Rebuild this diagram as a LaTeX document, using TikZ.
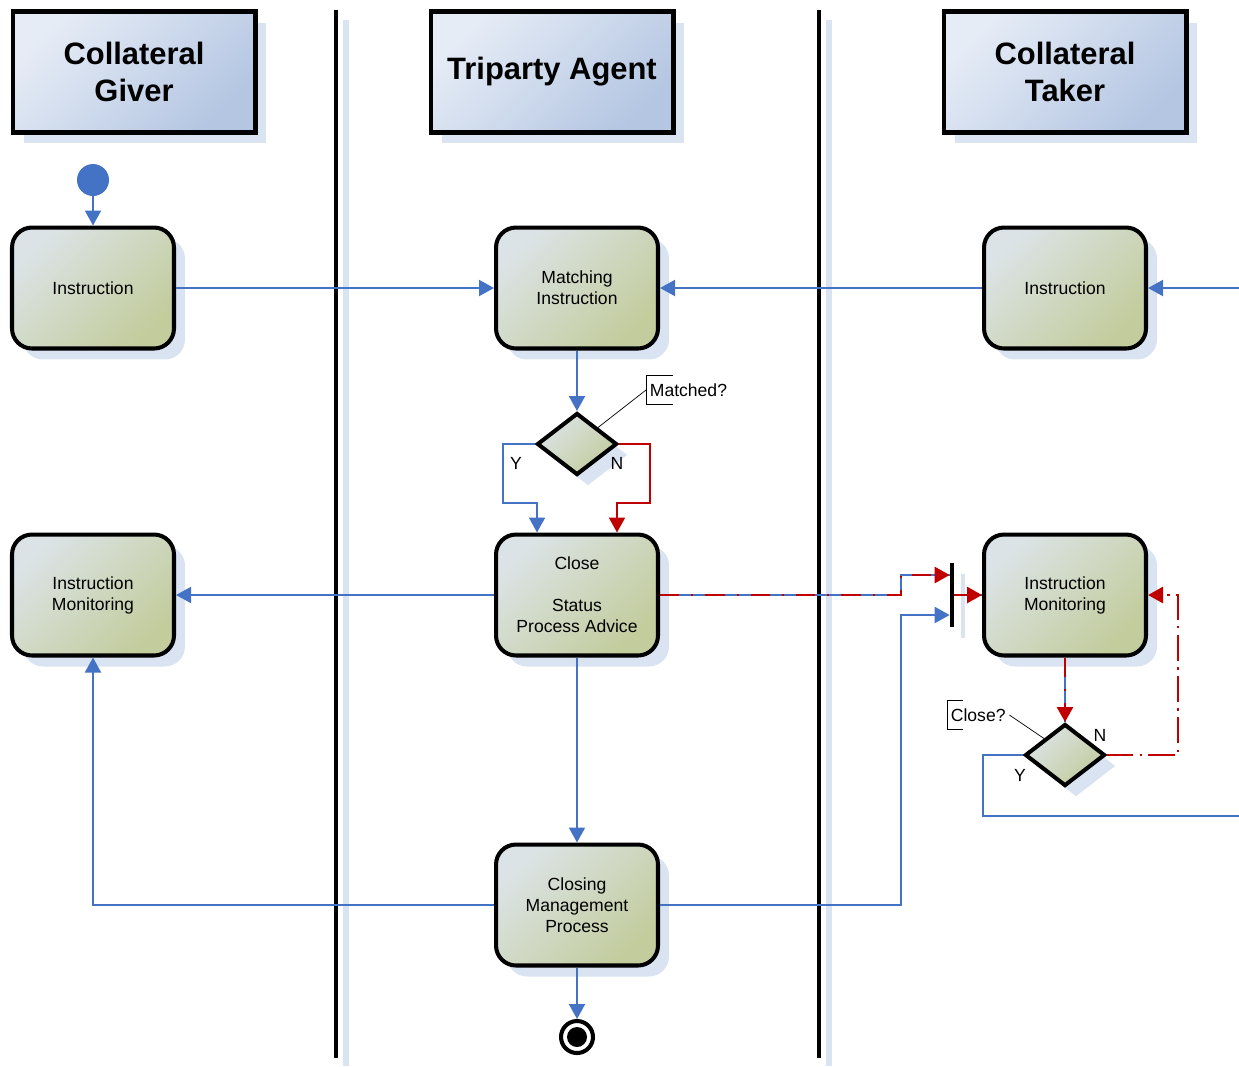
\documentclass[tikz,border=0pt]{standalone}
\usepackage{fontspec}
\setmainfont{Liberation Sans}
\usetikzlibrary{shapes.geometric, arrows.meta, shadows}

\definecolor{flowblue}{RGB}{68,114,196}
\definecolor{flowred}{RGB}{192,0,0}
\definecolor{shadowblue}{RGB}{217,227,242}
\definecolor{headlight}{RGB}{230,236,246}
\definecolor{headdark}{RGB}{180,198,226}
\definecolor{actlight}{RGB}{220,227,230}
\definecolor{actdark}{RGB}{194,204,156}

\begin{document}
\begin{tikzpicture}[
    x=0.02cm, y=-0.02cm,
    boxshadow/.style={drop shadow={shadow xshift=0.22cm, shadow yshift=-0.22cm, fill=shadowblue, opacity=1}},
    header/.style={rectangle, draw, line width=2.3pt, minimum width=4.86cm, minimum height=2.42cm, align=center, font=\fontsize{17.6}{21}\selectfont\bfseries, top color=headlight, bottom color=headdark, shading angle=45, boxshadow},
    activity/.style={rectangle, draw, line width=2.3pt, rounded corners=0.4cm, minimum width=3.24cm, minimum height=2.42cm, align=center, font=\fontsize{10}{12}\selectfont, top color=actlight, bottom color=actdark, shading angle=45, boxshadow},
    decision/.style={diamond, draw, line width=2.3pt, minimum width=1.6cm, minimum height=1.24cm, inner sep=0pt, top color=actlight, bottom color=actdark, shading angle=45, boxshadow},
    startdot/.style={circle, fill=flowblue, minimum size=0.64cm, inner sep=0pt},
    enddot/.style={circle, draw, line width=2.3pt, fill=white, minimum size=0.64cm, inner sep=0pt, path picture={\fill[black] (path picture bounding box.center) circle (0.2cm);}},
    syncbar/.style={rectangle, fill=black, minimum width=0.08cm, minimum height=1.28cm, inner sep=0pt, boxshadow},
    lbl/.style={font=\fontsize{10}{12}\selectfont, inner sep=1pt},
    qnote/.style={font=\fontsize{10}{12}\selectfont, anchor=west, minimum height=0.56cm, inner xsep=2pt},
    lane/.style={line width=2.3pt},
    laneshade/.style={shadowblue, line width=3pt},
    plain/.style={flowblue, line width=1.2pt},
    flow/.style={plain, -{Triangle[length=0.3cm, width=0.32cm]}},
    redflow/.style={flowred, line width=1.2pt, -{Triangle[length=0.3cm, width=0.32cm]}},
    reddash/.style={redflow, line width=1.6pt, dash pattern=on 15pt off 3.5pt on 1.5pt off 3.5pt},
    mixflow/.style={redflow, line width=1.6pt, dash pattern=on 11pt off 6.8pt on 1.2pt off 6.8pt, preaction={draw=flowblue, line width=1.2pt, solid, -}}
]
\useasboundingbox (0,0) rectangle (1239,1066);

% Swimlane dividers
\draw[laneshade] (346,20) -- (346,1066);
\draw[lane] (336,10) -- (336,1058);
\draw[laneshade] (829,20) -- (829,1066);
\draw[lane] (819,10) -- (819,1058);

% Lane headers
\node[header] (giver) at (134,72) {Collateral\\Giver};
\node[header] (agent) at (552,72) {Triparty Agent};
\node[header] (taker) at (1065,72) {Collateral\\Taker};

% Activities
\node[startdot] (start) at (93,180) {};
\node[activity] (ginstr) at (93,288) {Instruction};
\node[activity] (match) at (577,288) {Matching\\Instruction};
\node[activity] (tinstr) at (1065,288) {Instruction};
\node[decision] (matchd) at (577,444) {};
\node[activity] (gmon) at (93,595) {Instruction\\Monitoring};
\node[activity] (close) at (577,595) {Close\\[12pt]Status\\Process Advice};
\node[activity] (tmon) at (1065,595) {Instruction\\Monitoring};
\node[syncbar] (bar) at (952,595) {};
\node[decision] (closed) at (1065,755) {};
\node[activity] (closing) at (577,905) {Closing\\Management\\Process};
\node[enddot] (finish) at (577,1037) {};

% Notes
\node[qnote] (matchq) at (646,390) {Matched?};
\draw[thin] ([xshift=0.54cm]matchq.north west) -- (matchq.north west) -- (matchq.south west) -- ([xshift=0.54cm]matchq.south west);
\draw[thin] (matchq.west) -- (matchd.north east);
\node[qnote] (closeq) at (947,715) {Close?};
\draw[thin] ([xshift=0.32cm]closeq.north west) -- (closeq.north west) -- (closeq.south west) -- ([xshift=0.32cm]closeq.south west);
\draw[thin] (closeq.east) -- (closed.north west);

% Free ends
\coordinate (tin) at (1239,288);
\coordinate (tout) at (1239,816);
\coordinate (syncA) at ([yshift=0.4cm]bar.west);
\coordinate (syncB) at ([yshift=-0.4cm]bar.west);

% Flows
\draw[flow] (start) -- (ginstr);
\draw[flow] (ginstr) -- (match);
\draw[flow] (tinstr) -- (match);
\draw[flow] (tin) -- (tinstr);
\draw[flow] (match) -- (matchd);
\draw[flow] (matchd.west) -- ++(-32,0) -- ++(0,59) -| ([xshift=-0.8cm]close.north);
\draw[redflow] (matchd.east) -- ++(31,0) -- ++(0,59) -| ([xshift=0.8cm]close.north);
\node[lbl] (ylbl) at (516,463) {Y};
\node[lbl] (nlbl) at (617,463) {N};
\draw[flow] (close) -- (gmon);
\draw[mixflow] (close.east) -- ++(241,0) |- (syncA);
\draw[flow] (close) -- (closing);
\draw[flow] (closing.west) -| (gmon.south);
\draw[flow] (closing.east) -- ++(241,0) |- (syncB);
\draw[flow] (closing) -- (finish);
\draw[mixflow] (bar) -- (tmon);
\draw[mixflow] (tmon) -- (closed);
\draw[reddash] (closed.east) -- ++(71,0) |- (tmon.east);
\draw[plain] (closed.west) -- ++(-40,0) |- (tout);
\node[lbl] (nlbl2) at (1100,735) {N};
\node[lbl] (ylbl2) at (1020,775) {Y};

\end{tikzpicture}
\end{document}
